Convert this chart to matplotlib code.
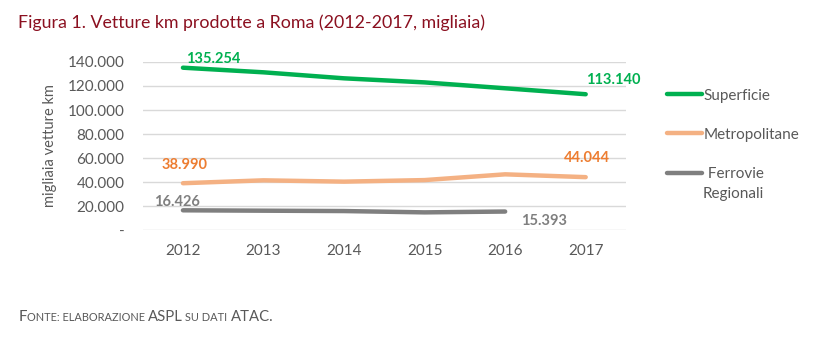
import matplotlib
matplotlib.use("Agg")
import matplotlib.pyplot as plt
from matplotlib.ticker import FuncFormatter

plt.rcParams['font.family'] = ['Lato', 'DejaVu Sans']

# Dati (migliaia di vetture km)
anni = ['2012', '2013', '2014', '2015', '2016', '2017']
superficie = [135254, 131400, 126400, 123000, 118100, 113140]
metropolitane = [38990, 41400, 40300, 41600, 46400, 44044]
ferrovie = [16426, 16100, 15800, 14700, 15393]

# colori
verde = '#00B050'
arancio_linea = '#F4B183'
arancio_testo = '#ED7D31'
grigio_linea = '#7F7F7F'
grigio_testo = '#595959'

fig = plt.figure(figsize=(8.29, 3.45), dpi=100)
ax = fig.add_axes([0.1721, 0.3333, 0.5830, 0.4870])

x = list(range(len(anni)))
l1, = ax.plot(x, superficie, color=verde, lw=3.2, solid_capstyle='round', label='Superficie')
l2, = ax.plot(x, metropolitane, color=arancio_linea, lw=3.2, solid_capstyle='round', label='Metropolitane')
l3, = ax.plot(x[:len(ferrovie)], ferrovie, color=grigio_linea, lw=3.2, solid_capstyle='round',
              label=' Ferrovie')

ax.set_xlim(-0.5, 5.5)
ax.set_ylim(0, 140000)
ax.set_yticks(range(0, 140001, 20000))

def fmt(v, pos):
    if v == 0:
        return '-'
    return f"{int(v):,}".replace(',', '.')

ax.yaxis.set_major_formatter(FuncFormatter(fmt))
ax.set_xticks(x)
ax.set_xticklabels(anni)
ax.grid(axis='y', color='#D9D9D9', lw=1)
ax.set_axisbelow(True)
for s in ax.spines.values():
    s.set_visible(False)
ax.tick_params(length=0, colors=grigio_testo, labelsize=11)
ax.tick_params(axis='x', pad=10)
ax.tick_params(axis='y', pad=13)
ax.set_ylabel('migliaia vetture km', color=grigio_testo, fontsize=10.5, labelpad=8)

def etichetta(v):
    return f"{v:,}".replace(',', '.')

# etichette dati
ax.annotate(etichetta(superficie[0]), (0, superficie[0]), xytext=(2, 1), textcoords='offset points',
            color=verde, fontsize=10.5, fontweight='bold', ha='left', va='bottom')
ax.annotate(etichetta(superficie[-1]), (5, superficie[-1]), xytext=(0, 5), textcoords='offset points',
            color=verde, fontsize=10.5, fontweight='bold', ha='left', va='bottom')
ax.annotate(etichetta(metropolitane[0]), (0, metropolitane[0]), xytext=(1, 8), textcoords='offset points',
            color=arancio_testo, fontsize=10.5, fontweight='bold', ha='center', va='bottom')
ax.annotate(etichetta(metropolitane[-1]), (5, metropolitane[-1]), xytext=(1, 9), textcoords='offset points',
            color=arancio_testo, fontsize=10.5, fontweight='bold', ha='center', va='bottom')
ax.annotate(etichetta(ferrovie[0]), (0, ferrovie[0]), xytext=(-4, 1), textcoords='offset points',
            color=grigio_linea, fontsize=10.5, fontweight='bold', ha='center', va='bottom')
ax.annotate(etichetta(ferrovie[-1]), (4, ferrovie[-1]), xytext=(28, -2), textcoords='offset points',
            color=grigio_linea, fontsize=10.5, fontweight='bold', ha='center', va='top')

leg = fig.legend(handles=[l1, l2, l3], loc='upper left', bbox_to_anchor=(0.788, 0.783),
                 frameon=False, fontsize=11, handlelength=2.3, handletextpad=0.1,
                 labelspacing=1.65, labelcolor=grigio_testo)

fig.text(0.022, 0.935, 'Figura 1. Vetture km prodotte a Roma (2012-2017, migliaia)',
         color='#8B1020', fontsize=12.8, ha='left', va='center')

# seconda riga della voce "Ferrovie Regionali"
fig.canvas.draw()
renderer = fig.canvas.get_renderer()
bb = leg.get_texts()[2].get_window_extent(renderer)
fig.text((bb.x0 + bb.x1) / 2 / fig.bbox.width - 0.001, (bb.y0 - 6) / fig.bbox.height, 'Regionali',
         ha='center', va='top', fontsize=11, color=grigio_testo)

# fonte con maiuscoletto
pezzi = [('F', 10.7), ('ONTE: ELABORAZIONE ', 7.9), ('ASPL', 10.7), (' SU DATI ', 7.9), ('ATAC.', 10.7)]
x_px = 0.022 * fig.bbox.width
y_px = 0.07 * fig.bbox.height
for testo, dim in pezzi:
    t = fig.text(x_px / fig.bbox.width, y_px / fig.bbox.height, testo, fontsize=dim,
                 color=grigio_testo, ha='left', va='baseline')
    x_px = t.get_window_extent(renderer).x1

fig.savefig('out.png', dpi=100)
